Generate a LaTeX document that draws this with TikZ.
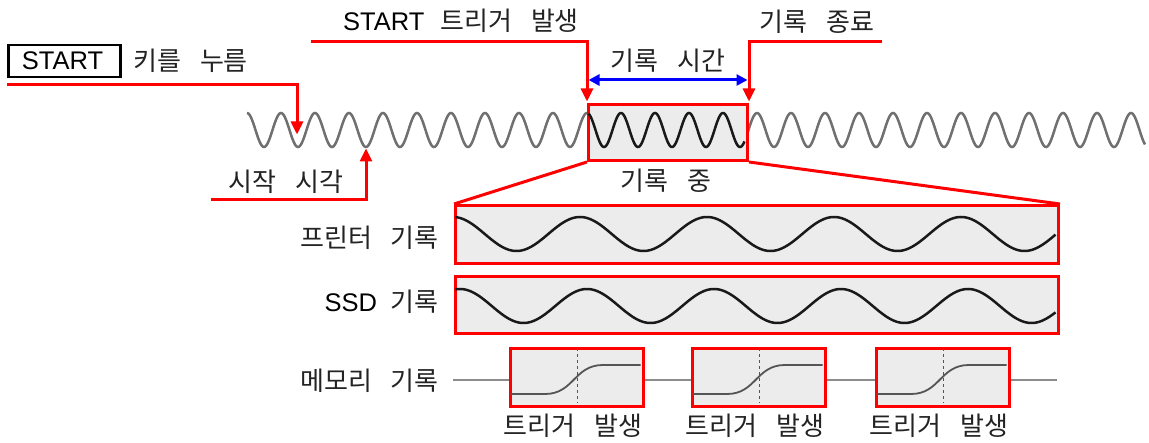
\documentclass[tikz,border=0pt]{standalone}
\usepackage{fontspec}
\setmainfont{Liberation Sans}
\newfontfamily\kr{Noto Sans CJK KR}
\usetikzlibrary{arrows.meta}
\newcommand\kgap{\hspace{19pt}}
\definecolor{rred}{RGB}{255,0,0}
\definecolor{bblue}{RGB}{0,0,255}
\definecolor{wavegray}{RGB}{112,112,112}
\definecolor{boxfill}{RGB}{236,236,236}
\definecolor{ktext}{RGB}{35,35,35}
\definecolor{memgray}{RGB}{85,85,85}
\definecolor{basegray}{RGB}{140,140,140}
\newcommand\K[1]{{\kr\fontsize{26}{32}\selectfont\color{ktext}#1}}
\begin{document}
\begin{tikzpicture}[x=1pt,y=-1pt,
  lbl/.style={inner sep=0pt, font=\fontsize{25.5}{30}\selectfont},
  redbox/.style={draw=rred, line width=3pt, fill=boxfill, inner sep=0pt},
  redline/.style={draw=rred, line width=3pt},
  redarrow/.style={redline, -{Triangle[length=13pt,width=12pt]}, shorten >=1.5pt},
  bluearrow/.style={draw=bblue, line width=3pt, {Triangle[length=11pt,width=11pt]}-{Triangle[length=11pt,width=11pt]}, shorten >=1.5pt, shorten <=1.5pt},
  graywave/.style={draw=wavegray, line width=2.5pt},
  blackwave/.style={draw=black!90, line width=2.5pt},
  memcurve/.style={draw=memgray, line width=1.8pt},
  baseline/.style={draw=basegray, line width=1.5pt},
  trigline/.style={draw=memgray, line width=0.8pt, dashed}
]
\useasboundingbox (0,0) rectangle (1149,443);

% main signal
\draw[graywave] plot[domain=247:1145, samples=900] (\x,{130-17*cos((\x-587)/34*360)});
\node[redbox, minimum width=159pt, minimum height=56pt, anchor=north west] (rec) at (587,103) {};
\draw[blackwave] plot[domain=588.5:744.5, samples=200] (\x,{130-17*cos((\x-587)/34*360)});

% START key
\node[draw=black, line width=2.5pt, minimum width=112pt, minimum height=32pt, inner sep=0pt, anchor=north west] (startbox) at (7,44) {};
\node[lbl, anchor=base] (startlbl) at (62.5,70) {START};
\node[lbl, anchor=base west] (keypress) at (133,71) {\K{키를\kgap 누름}};
\coordinate (kp0) at (7,85);
\coordinate (kpt) at (297,136);
\draw[redarrow] (kp0) -| (kpt);

% start time
\node[lbl, anchor=base] (sttime) at (286,192) {\K{시작\kgap 시각}};
\coordinate (st0) at (211,199.5);
\coordinate (stpt) at (366,147);
\draw[redarrow] (st0) -| (stpt);

% START trigger
\node[lbl, anchor=base] (trig) at (461,31) {START\hspace{16pt}\K{트리거\kgap 발생}};
\coordinate (tr0) at (311,42);
\draw[redarrow] (tr0) -| (rec.north west);

% record end
\node[lbl, anchor=base] (recend) at (817,32) {\K{기록\kgap 종료}};
\coordinate (en0) at (882,42);
\draw[redarrow] (en0) -| (rec.north east);

% record time
\node[lbl, anchor=base] (rectime) at (668,71) {\K{기록\kgap 시간}};
\draw[bluearrow] ([yshift=23pt]rec.north west) -- ([yshift=23pt]rec.north east);

% recording
\node[lbl, anchor=base] (recing) at (666,191) {\K{기록\kgap 중}};

% printer
\node[redbox, minimum width=603pt, minimum height=58pt, anchor=north west] (pbox) at (454,204) {};
\draw[blackwave] plot[domain=455.5:1055.5, samples=400] (\x,{234-17*cos((\x-453)/127*360)});
\node[lbl, anchor=base east] (plbl) at (439,248) {\K{프린터\kgap 기록}};

% zoom lines
\draw[redline] (rec.south west) -- (pbox.north west);
\draw[redline] (rec.south east) -- (pbox.north east);

% SSD
\node[redbox, minimum width=603pt, minimum height=57pt, anchor=north west] (sbox) at (454,275) {};
\draw[blackwave] plot[domain=455.5:1055.5, samples=400] (\x,{306-17*cos((\x-460)/127*360)});
\node[lbl, anchor=base east] (slbl) at (439,312) {SSD\hspace{14pt}\K{기록}};

% memory
\node[lbl, anchor=base east] (mlbl) at (439,391) {\K{메모리\kgap 기록}};
\coordinate (mb0) at (453,380);
\coordinate (mb1) at (1057,380);
\draw[baseline] (mb0) -- (mb1);
\foreach \o/\n in {0/a,182/b,366/c}{
  \node[redbox, minimum width=133pt, minimum height=58pt, anchor=north west] (m\n) at (509+\o,347) {};
  \draw[trigline] (577+\o,348.5) -- (577+\o,403.5);
  \draw[memcurve] (510.5+\o,394) -- (545+\o,394) .. controls (574+\o,394) and (574+\o,365) .. (603+\o,365) -- (640.5+\o,365);
}
\node[lbl, anchor=base] (ta) at (573,436) {\K{트리거\kgap 발생}};
\node[lbl, anchor=base] (tb) at (755,436) {\K{트리거\kgap 발생}};
\node[lbl, anchor=base] (tc) at (939,436) {\K{트리거\kgap 발생}};
\end{tikzpicture}
\end{document}
